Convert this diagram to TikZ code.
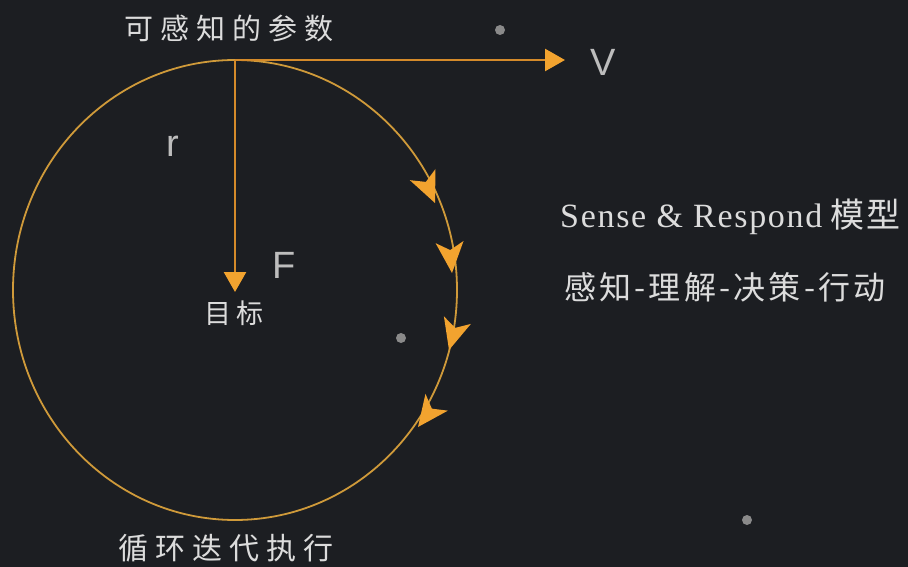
\documentclass[tikz,border=0pt]{standalone}
\usepackage{fontspec}
\setmainfont{Liberation Serif}
\newfontfamily\cjk{Noto Sans CJK SC}
\newfontfamily\sansf{Liberation Sans}
\usetikzlibrary{arrows.meta}
\definecolor{bg}{HTML}{1C1E22}
\definecolor{gold}{HTML}{CF9A3A}
\definecolor{ora}{HTML}{D48A2A}
\definecolor{tipc}{HTML}{F2A32F}
\definecolor{txt}{HTML}{DCDCDC}
\definecolor{ltr}{HTML}{BDBDBD}
\definecolor{dotc}{HTML}{8A8A8A}
\tikzset{
  cjklabel/.style={text=txt, font=\cjk\fontsize{29}{32}\selectfont, inner sep=0pt},
  ltrlabel/.style={text=ltr, font=\sansf\fontsize{38}{40}\selectfont, inner sep=0pt},
  vec/.style={draw=ora, line width=2.6pt, -{Triangle[length=20pt,width=22pt,fill=tipc,color=tipc]}},
  orbit/.style={draw=gold, line width=1.8pt},
  flowtip/.style={fill=tipc},
  star/.style={fill=dotc}
}
\begin{document}
\begin{tikzpicture}[x=1pt,y=-1pt]
\fill[bg] (0,0) rectangle (908,567);
\useasboundingbox (0,0) rectangle (908,567);
% dots
\fill[star] (500,30) circle (5);
\fill[star] (401,338) circle (5);
\fill[star] (747,520) circle (5);
% orbit
\draw[orbit] (235,290) ellipse [x radius=222, y radius=230];
% flow arrowheads
\foreach \px/\py/\ang in {435/203/-66.5, 452/273/-85.5, 449/350/-105.7, 418/427/-127}{
  \fill[flowtip, shift={(\px,\py)}, rotate=\ang] (0,0) -- (-31,14) -- (-23,0) -- (-31,-14) -- cycle;
}
% vectors
\coordinate (top) at (235,60);
\coordinate (vend) at (565,60);
\coordinate (aim) at (235,292);
\draw[vec] (top) -- (vend);
\draw[vec] (top) -- (aim);
% labels
\node[cjklabel] (params) at (229,28) {可\kern7pt 感\kern7pt 知\kern7pt 的\kern7pt 参\kern7pt 数};
\node[cjklabel, font=\cjk\fontsize{27}{30}\selectfont] (goal) at (234,313) {目\kern6pt 标};
\node[cjklabel, font=\cjk\fontsize{30}{32}\selectfont] (cycle) at (226,548) {循\kern7pt 环\kern7pt 迭\kern7pt 代\kern7pt 执\kern7pt 行};
\node[ltrlabel] (V) at (603,62) {V};
\node[ltrlabel] (r) at (173,146) {r};
\node[ltrlabel] (F) at (284,265) {F};
\node[text=txt, anchor=west, inner sep=0pt, font=\fontsize{34}{36}\selectfont\addfontfeatures{LetterSpace=5}] (sr) at (560,217) {Sense \& Respond\kern8pt{\cjk\addfontfeatures{LetterSpace=5}模型}};
\node[text=txt, anchor=west, inner sep=0pt, font=\cjk\fontsize{32}{36}\selectfont\addfontfeatures{LetterSpace=10}] (steps) at (564,287) {感知-理解-决策-行动};
\end{tikzpicture}
\end{document}
